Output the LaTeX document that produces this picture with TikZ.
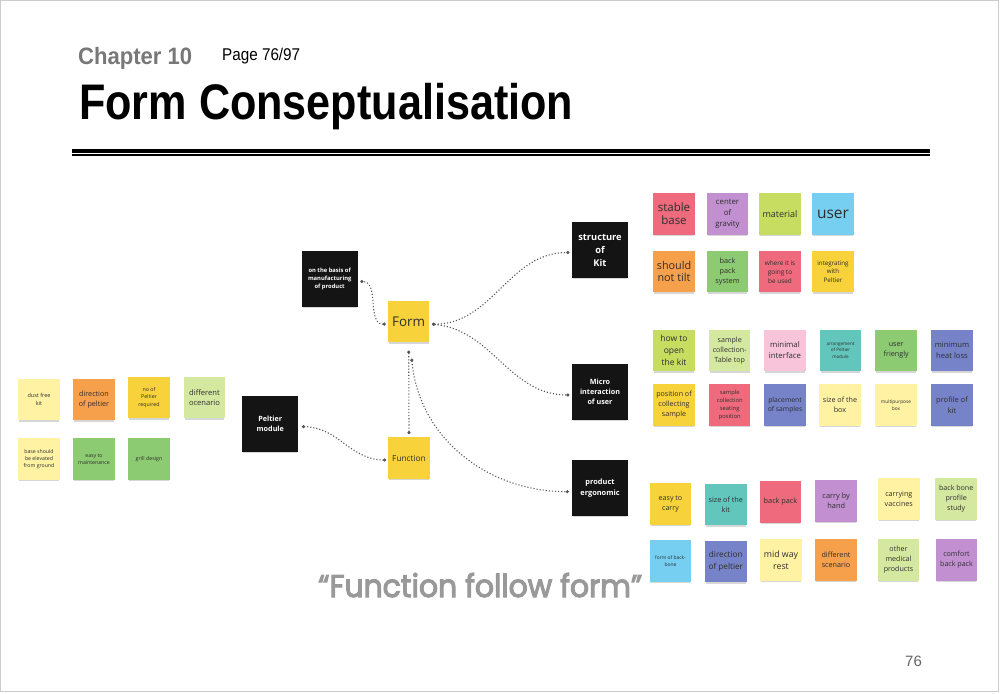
\documentclass[tikz,border=0pt]{standalone}
\usepackage{fontspec}
\usepackage{graphicx}
\setmainfont{Open Sans}
\newfontfamily\headfont{Liberation Sans}
\newfontfamily\quotefont[FakeBold=3.5]{Poppins}
\usetikzlibrary{shadows,arrows.meta}
\definecolor{paleY}{HTML}{FFF3A3}
\definecolor{yellowN}{HTML}{F7D23A}
\definecolor{orangeN}{HTML}{F6A04C}
\definecolor{lgreen}{HTML}{D5E8A0}
\definecolor{greenN}{HTML}{8DCB72}
\definecolor{lime}{HTML}{C6DD62}
\definecolor{pinkR}{HTML}{EF6A7D}
\definecolor{purpleN}{HTML}{C290D1}
\definecolor{lblue}{HTML}{76CEF1}
\definecolor{tealN}{HTML}{62C6BD}
\definecolor{indigoN}{HTML}{7683C9}
\definecolor{pinkL}{HTML}{F7C4DA}
\definecolor{noteText}{HTML}{2E2E2E}
\definecolor{connGray}{HTML}{555555}
\newcommand\fsz[1]{\fontsize{#1pt}{\dimexpr #1pt*14/10\relax}\selectfont}
\begin{document}
\begin{tikzpicture}[x=1pt,y=-1pt,
  note/.style={minimum width=41.5pt, minimum height=41.5pt, inner sep=1pt,
    align=center, text=noteText,
    general shadow={shadow yshift=-2.5pt, shadow scale=0.96, fill=black, opacity=0.16}},
  bnote/.style={note, fill=black!92, text=white, minimum width=56pt, minimum height=56pt},
  conn/.style={draw=connGray, line width=1.1pt, dotted, {Circle[length=3pt]}-{Circle[length=3pt]}}
]
\useasboundingbox (0,0) rectangle (1000,693);
\fill[white] (0,0) rectangle (1000,693);
\draw[black!20, line width=0.8pt] (0.5,0.5) rectangle (998,691);

% header
\node[anchor=base west, inner sep=0, text=black!53, font=\headfont\bfseries\fontsize{23.7}{24}\selectfont] (chap) at (78,64) {\resizebox{114pt}{\height}{Chapter 10}};
\node[anchor=base west, inner sep=0, text=black, font=\headfont\fontsize{17}{17}\selectfont] (page) at (222,60) {\resizebox{78pt}{\height}{Page 76/97}};
\node[anchor=base west, inner sep=0, text=black, font=\headfont\bfseries\fontsize{50}{50}\selectfont] (title) at (79,119) {\resizebox{494pt}{\height}{Form Conseptualisation}};
\draw[black, line width=3.5pt] (72,151.2) -- (930,151.2);
\draw[black, line width=1.2pt] (72,155) -- (930,155);

% left cluster
\node[note,fill=paleY,font=\fsz{5.5}] (l1) at (39,399.5) {dust free\\kit};
\node[note,fill=orangeN,font=\fsz{7.2}] (l2) at (94,399.5) {direction\\of peltier};
\node[note,fill=yellowN,font=\fsz{5.3}] (l3) at (149,397.5) {no of\\Peltier\\required};
\node[note,fill=lgreen,font=\fsz{7.6}] (l4) at (204.5,397.5) {different\\ocenario};
\node[note,fill=paleY,font=\fsz{5.2}] (l5) at (39,459) {base should\\be elevated\\from ground};
\node[note,fill=greenN,font=\fsz{5.2}] (l6) at (94,459) {easy to\\maintenance};
\node[note,fill=greenN,font=\fsz{5.3}] (l7) at (149,459) {grill design};

% center mind map
\node[bnote,font=\bfseries\fsz{5.8}] (basis) at (329.7,279) {on the basis of\\manufacturing\\of product};
\node[note,fill=yellowN,font=\fsz{13.4}] (form) at (408.7,321.7) {Form};
\node[bnote,font=\bfseries\fsz{7.2}] (peltier) at (270.3,424) {Peltier\\module};
\node[note,fill=yellowN,font=\fsz{8.3}] (function) at (409,458) {Function};
\node[bnote,font=\bfseries\fsz{9.3}] (structure) at (600,250) {structure\\of\\Kit};
\node[bnote,font=\bfseries\fsz{7.2}] (micro) at (600,391.7) {Micro\\interaction\\of user};
\node[bnote,font=\bfseries\fsz{7.4}] (ergo) at (600,488) {product\\ergonomic};

\draw[conn] ([xshift=-2pt,yshift=-2.5pt]form.west) to[out=180,in=0] ([xshift=2.5pt,yshift=-2.5pt]basis.east);
\draw[conn] ([xshift=2.5pt,yshift=-2.5pt]form.east) to[out=0,in=180] ([xshift=-2.5pt,yshift=-2.5pt]structure.west);
\draw[conn] ([xshift=2.5pt,yshift=-2.5pt]form.east) to[out=-5,in=180] ([xshift=-2.5pt,yshift=-3.3pt]micro.west);
\draw[conn] ([yshift=-8pt]form.south) -- ([yshift=3pt]function.north);
\draw[conn] ([xshift=3pt,yshift=-16pt]form.south) to[out=-85,in=180] ([xshift=-3pt,yshift=-3.7pt]ergo.west);
\draw[conn] ([xshift=-2pt,yshift=-2pt]function.west) to[out=180,in=0] ([xshift=3.5pt,yshift=-2.7pt]peltier.east);

% top right cluster
\node[note,fill=pinkR,font=\fsz{11.5}] (t1) at (674,214) {stable\\[-3pt]base};
\node[note,fill=purpleN,font=\fsz{7.8}] (t2) at (727.5,214) {center\\of\\gravity};
\node[note,fill=lime,font=\fsz{9}] (t3) at (780,214) {material};
\node[note,fill=lblue,font=\fsz{15.5}] (t4) at (833,214) {user};
\node[note,fill=orangeN,font=\fsz{10.8}] (t5) at (674,271.7) {should\\[-3pt]not tilt};
\node[note,fill=greenN,font=\fsz{7.3}] (t6) at (727.5,271.7) {back\\pack\\system};
\node[note,fill=pinkR,font=\fsz{6.4}] (t7) at (780,271.7) {where it is\\going to\\be used};
\node[note,fill=yellowN,font=\fsz{6.2}] (t8) at (833,271.7) {integrating\\with\\Peltier};

% middle right cluster
\node[note,fill=lime,font=\fsz{8.5}] (m1) at (674,350.3) {how to\\open\\the kit};
\node[note,fill=lgreen,font=\fsz{7.1}] (m2) at (729.7,350.3) {sample\\collection-\\Table top};
\node[note,fill=pinkL,font=\fsz{7.8}] (m3) at (785,350.3) {minimal\\interface};
\node[note,fill=tealN,font=\fsz{4.6}] (m4) at (840.5,350.3) {arrangement\\of Peltier\\module};
\node[note,fill=greenN,font=\fsz{7.2}] (m5) at (896.2,350.3) {user\\friengly};
\node[note,fill=indigoN,font=\fsz{7.6}] (m6) at (952,350.3) {minimum\\heat loss};
\node[note,fill=yellowN,font=\fsz{7.1}] (m7) at (674,405) {position of\\collecting\\sample};
\node[note,fill=pinkR,font=\fsz{5.8}] (m8) at (729.7,405) {sample\\collection\\seating\\position};
\node[note,fill=indigoN,font=\fsz{6.8}] (m9) at (785,405) {placement\\of samples};
\node[note,fill=paleY,font=\fsz{7.2}] (m10) at (840,405) {size of the\\box};
\node[note,fill=paleY,font=\fsz{4.8}] (m11) at (896,405) {multipurpose\\box};
\node[note,fill=indigoN,font=\fsz{7.5}] (m12) at (952,405) {profile of\\kit};

% bottom right cluster
\node[note,fill=yellowN,font=\fsz{7.1}] (b1) at (670.5,504) {easy to\\carry};
\node[note,fill=tealN,font=\fsz{7.2}] (b2) at (725.8,504.5) {size of the\\kit};
\node[note,fill=pinkR,font=\fsz{7.3}] (b3) at (780.5,502) {back pack};
\node[note,fill=purpleN,font=\fsz{7.4}] (b4) at (836.2,501) {carry by\\hand};
\node[note,fill=paleY,font=\fsz{7.2}] (b5) at (898.8,499) {carrying\\vaccines};
\node[note,fill=lgreen,font=\fsz{7.1}] (b6) at (956.2,499) {back bone\\profile\\study};
\node[note,fill=lblue,font=\fsz{4.9}] (b7) at (670.5,561) {form of back-\\bone};
\node[note,fill=indigoN,font=\fsz{8.2}] (b8) at (725.8,561.5) {direction\\of peltier};
\node[note,fill=paleY,font=\fsz{8.8}] (b9) at (781,560) {mid way\\rest};
\node[note,fill=orangeN,font=\fsz{7.2}] (b10) at (836,560) {different\\scenario};
\node[note,fill=lgreen,font=\fsz{7.1}] (b11) at (898.5,560) {other\\medical\\products};
\node[note,fill=purpleN,font=\fsz{7.1}] (b12) at (956.5,560) {comfort\\back pack};

% quote and page number
\node[anchor=base west, inner sep=0, text=black!40, font=\quotefont\fontsize{31.5}{32}\selectfont] (quote) at (318,597) {\resizebox{324pt}{\height}{“Function follow form”}};
\node[anchor=base west, inner sep=0, text=black!60, font=\headfont\fontsize{15}{15}\selectfont] (pnum) at (905,666) {76};
\end{tikzpicture}
\end{document}
